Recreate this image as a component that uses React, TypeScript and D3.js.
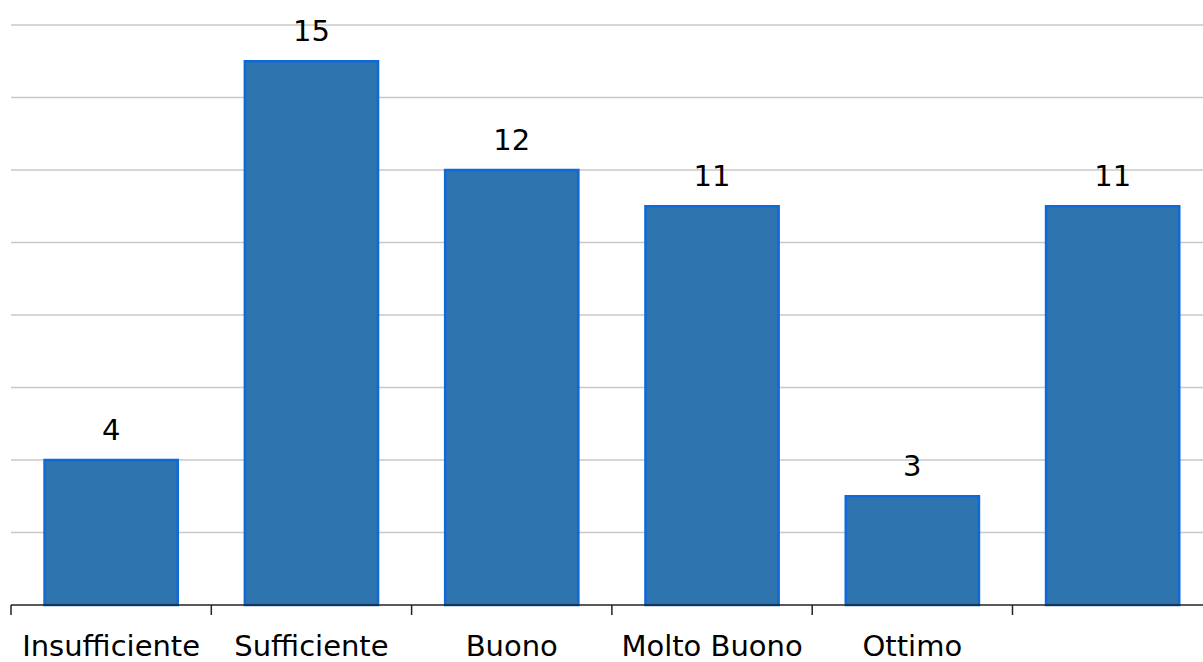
import React from "react";
import * as d3 from "d3";

const categories = ["Insufficiente", "Sufficiente", "Buono", "Molto Buono", "Ottimo", ""];
const values = [4, 15, 12, 11, 3, 11];
const gridTicks = [2, 4, 6, 8, 10, 12, 14, 16];

export default function App() {
  const W = 1203, H = 662;
  const left = 11, bandW = 200.3;
  const keys = categories.map((c, i) => String(i));
  const x = d3.scaleBand<string>().domain(keys).range([left, left + bandW * categories.length]).paddingInner(0.335).paddingOuter(0.1675);
  const xb = d3.scaleBand<string>().domain(keys).range([left, left + bandW * categories.length]);
  const y = d3.scaleLinear().domain([0, 16]).range([605, 25]);
  const font = "'DejaVu Sans', Verdana, sans-serif";
  return (
    <svg width={W} height={H} style={{ position: "absolute", left: 0, top: 0 }}>
      <rect width={W} height={H} fill="#fff" />
      {gridTicks.map(t => (
        <line key={t} x1={left} x2={W} y1={y(t)} y2={y(t)} stroke="#c8c8c8" strokeWidth={1.5} />
      ))}
      {values.map((v, i) => (
        <rect key={i} x={x(String(i))} y={y(v)} width={x.bandwidth()} height={y(0) - y(v)} fill="#2e75b0" stroke="#0f6ad8" strokeWidth={2.5} />
      ))}
      <line x1={left} x2={W} y1={y(0)} y2={y(0)} stroke="#222" strokeWidth={1.5} />
      {categories.map((c, i) => (
        <line key={"t" + i} x1={xb(String(i))!} x2={xb(String(i))!} y1={y(0)} y2={y(0) + 10} stroke="#222" strokeWidth={1.5} />
      ))}
      {values.map((v, i) => (
        <text key={"v" + i} x={x(String(i))! + x.bandwidth() / 2} y={y(v) - 20} textAnchor="middle" fontFamily={font} fontSize={29} fill="#000">{v}</text>
      ))}
      {categories.map((c, i) => (
        <text key={"c" + i} x={xb(String(i))! + bandW / 2} y={656} textAnchor="middle" fontFamily={font} fontSize={29} fill="#000">{c}</text>
      ))}
    </svg>
  );
}
